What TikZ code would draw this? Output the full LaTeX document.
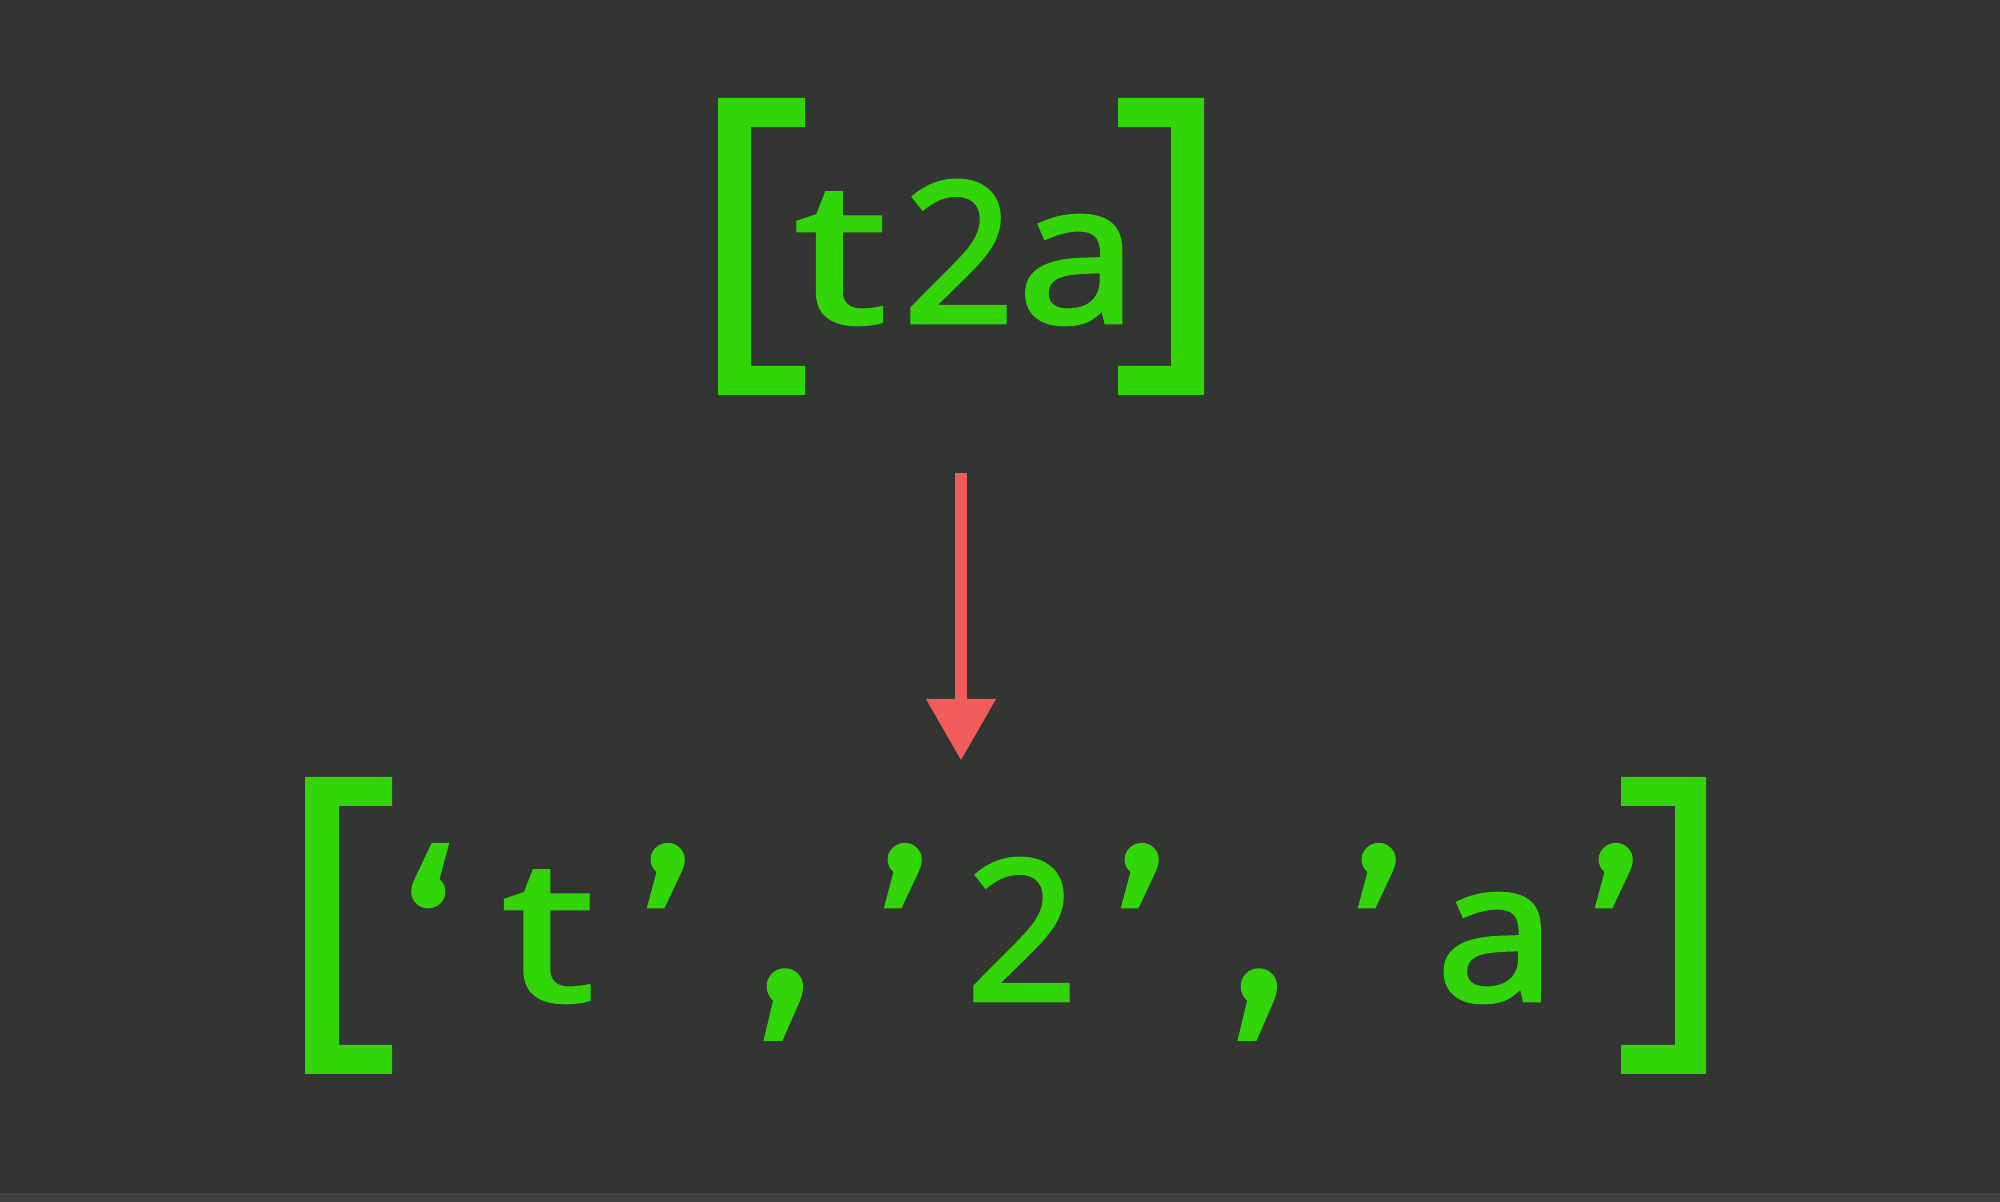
\documentclass[tikz,border=0pt]{standalone}
\usepackage{fontspec}
\setmainfont{Open Sans}
\newfontfamily\codefont{Open Sans}[RawFeature={embolden=2.5}]
\newfontfamily\quotefont{Fira Sans}[RawFeature={embolden=1.5}]
\usetikzlibrary{arrows.meta}
\definecolor{bgcol}{RGB}{51,53,51}
\definecolor{stripcol}{RGB}{64,64,64}
\definecolor{codegreen}{RGB}{50,214,8}
\definecolor{arrowred}{RGB}{240,92,90}
\newcommand{\cellA}[1]{\makebox[1.185cm][c]{#1}}
\newcommand{\qA}[1]{\makebox[1.185cm][c]{\raisebox{-0.22cm}{\quotefont\fontsize{67pt}{70pt}\selectfont #1}}}
\newcommand{\cA}[1]{\makebox[1.185cm][c]{\quotefont\fontsize{67pt}{70pt}\selectfont #1}}
\newcommand{\wideT}{\makebox[1.185cm][c]{\scalebox{1.3}[1]{t}}}
\newcommand{\wideA}{\makebox[1.185cm][c]{\scalebox{1.1}[1]{a}}}
\tikzset{
  codetext/.style={text=codegreen, inner sep=0pt, outer sep=0pt, anchor=base, font=\codefont\fontsize{55.4pt}{60pt}\selectfont},
  bracketfill/.style={fill=codegreen},
  redarrow/.style={draw=arrowred, line width=0.126cm, -{Triangle[length=0.61cm,width=0.70cm,line width=0pt]}}
}
\begin{document}
\begin{tikzpicture}
\useasboundingbox (0,0) rectangle (20,-12.02);
\fill[bgcol] (0,0) rectangle (20,-12.02);
\fill[stripcol] (0,-11.93) rectangle (20,-12.02);

% top brackets
\fill[bracketfill] (7.18,-0.98) -- (8.05,-0.98) -- (8.05,-1.27) -- (7.51,-1.27) -- (7.51,-3.66) -- (8.05,-3.66) -- (8.05,-3.95) -- (7.18,-3.95) -- cycle;
\fill[bracketfill] (12.04,-0.98) -- (11.18,-0.98) -- (11.18,-1.27) -- (11.71,-1.27) -- (11.71,-3.66) -- (11.18,-3.66) -- (11.18,-3.95) -- (12.04,-3.95) -- cycle;

% bottom brackets
\fill[bracketfill] (3.05,-7.77) -- (3.92,-7.77) -- (3.92,-8.06) -- (3.39,-8.06) -- (3.39,-10.45) -- (3.92,-10.45) -- (3.92,-10.74) -- (3.05,-10.74) -- cycle;
\fill[bracketfill] (17.06,-7.77) -- (16.21,-7.77) -- (16.21,-8.06) -- (16.75,-8.06) -- (16.75,-10.45) -- (16.21,-10.45) -- (16.21,-10.74) -- (17.06,-10.74) -- cycle;

% texts
\node[codetext] (top) at (9.59,-3.22) {\wideT\cellA{2}\wideA};
\node[codetext] (bottom) at (10.22,-10.00) {\qA{‘}\wideT\qA{’}\cA{,}\qA{’}\cellA{2}\qA{’}\cA{,}\qA{’}\wideA\qA{’}};

% arrow
\coordinate (astart) at (9.61,-4.73);
\coordinate (aend) at (9.61,-7.60);
\draw[redarrow] (astart) -- (aend);
\end{tikzpicture}
\end{document}
